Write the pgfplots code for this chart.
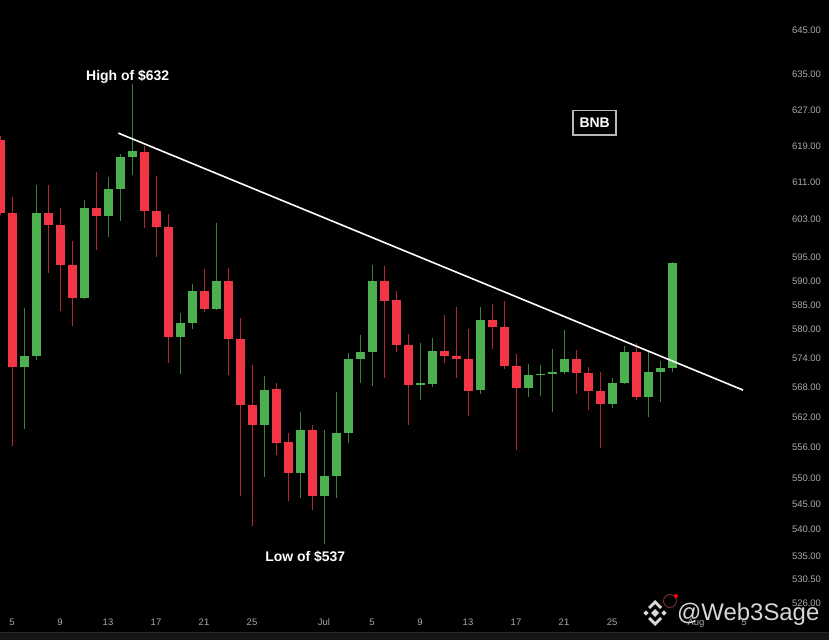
\documentclass[border=0pt]{standalone}
\usepackage{pgfplots}
\pgfplotsset{compat=1.18}
\usepackage{pgfplotstable}
\usepackage{fontspec}
\setmainfont{Liberation Sans}
\definecolor{candleup}{HTML}{4CAF50}
\definecolor{candledown}{HTML}{F23645}
\definecolor{ticklab}{HTML}{ABABAB}
\definecolor{band}{HTML}{161616}

\pgfplotstableread{
d o h l c
-1 620.4 621.3 604.0 604.5
0 604.4 608.0 556.3 572.2
1 572.2 584.4 559.7 574.5
2 574.5 610.5 573.6 604.4
3 604.4 610.5 591.6 601.9
4 601.9 605.6 583.8 593.4
5 593.4 598.5 580.7 586.4
6 586.4 607.3 586.2 605.6
7 605.6 613.4 596.5 603.7
8 603.7 612.2 599.4 609.6
9 609.6 617.2 602.8 616.7
10 616.6 632.9 612.7 617.9
11 617.7 619.1 601.3 604.9
12 604.9 612.5 595.1 601.5
13 601.5 604.2 573.0 578.4
14 578.4 583.3 570.8 581.3
15 581.3 589.4 580.1 588.0
16 588.0 592.5 583.6 584.1
17 584.1 602.3 583.9 590.1
18 590.1 592.7 570.6 578.0
19 578.0 582.2 546.5 564.5
20 564.6 572.6 540.6 560.5
21 560.5 570.4 550.3 567.5
22 567.7 568.9 554.6 557.0
23 557.1 559.0 545.6 551.0
24 551.0 563.1 546.2 559.5
25 559.5 560.4 543.7 546.4
26 546.4 559.5 537.3 550.4
27 550.4 567.1 546.2 559.0
28 558.9 575.1 557.0 573.8
29 573.8 578.8 568.9 575.3
30 575.3 593.4 568.4 589.9
31 589.9 593.2 570.0 585.8
32 586.0 587.9 575.3 576.7
33 576.7 579.0 560.4 568.6
34 568.6 577.1 565.5 568.9
35 568.7 578.2 568.2 575.5
36 575.5 582.9 573.1 574.5
37 574.5 584.6 570.0 573.8
38 573.8 580.0 562.3 567.3
39 567.5 584.6 566.7 581.8
40 581.8 585.2 575.8 580.4
41 580.4 585.8 571.8 572.4
42 572.4 574.8 555.5 568.0
43 568.0 572.8 566.2 570.6
44 570.6 572.6 566.3 570.9
45 570.9 575.9 563.0 571.2
46 571.1 579.7 570.7 573.8
47 573.8 575.6 566.7 571.0
48 571.0 572.2 563.6 567.3
49 567.3 571.3 556.0 564.8
50 564.8 570.0 563.9 568.9
51 568.9 576.5 568.7 575.2
52 575.2 577.2 565.4 566.1
53 566.1 575.4 562.1 571.2
54 571.2 573.4 565.2 572.0
55 572.0 593.9 571.1 593.7
}\candles

\begin{document}
\begin{tikzpicture}[x=1bp,y=1bp]
\useasboundingbox (0,0) rectangle (829,640);
\fill[black] (0,0) rectangle (829,640);
\fill[band] (0,0) rectangle (829,8);
\draw[color=white!16!black, line width=0.8bp] (0,8) -- (829,8);

\begin{axis}[
  at={(0bp,8bp)}, anchor=south west,
  scale only axis, width=775bp, height=632bp,
  xmin=-1, xmax=63.5833,
  y coord trafo/.code={\pgfmathparse{100*ln(#1)-600}},
  y coord inv trafo/.code={\pgfmathparse{exp((#1+600)/100)}},
  ymin=520.67, ymax=652.08,
  enlargelimits=false,
  axis line style={draw=none},
  tick style={draw=none},
  major tick length=0pt,
  /pgf/number format/assume math mode=true,
  xtick={0,4,8,12,16,20,26,30,34,38,42,46,50,57,61},
  xticklabels={5,9,13,17,21,25,Jul,5,9,13,17,21,25,Aug,5},
  xticklabel style={anchor=base, yshift=6.7bp, text=ticklab, font=\fontsize{9.5}{11}\selectfont},
  ytick={645,635,627,619,611,603,595,590,585,580,574,568,562,556,550,545,540,535,530.5,526},
  yticklabels={645.00,635.00,627.00,619.00,611.00,603.00,595.00,590.00,585.00,580.00,574.00,568.00,562.00,556.00,550.00,545.00,540.00,535.00,530.50,526.00},
  yticklabel pos=right,
  yticklabel style={anchor=center, xshift=31.5bp, text=ticklab, font=\fontsize{9.5}{11}\selectfont},
]
\pgfplotstablegetrowsof{\candles}
\pgfmathtruncatemacro\lastrow{\pgfplotsretval-1}
\pgfplotsforeachungrouped \i in {0,...,\lastrow}{%
  \pgfplotstablegetelem{\i}{d}\of\candles \let\cd\pgfplotsretval
  \pgfplotstablegetelem{\i}{o}\of\candles \let\co\pgfplotsretval
  \pgfplotstablegetelem{\i}{h}\of\candles \let\ch\pgfplotsretval
  \pgfplotstablegetelem{\i}{l}\of\candles \let\cl\pgfplotsretval
  \pgfplotstablegetelem{\i}{c}\of\candles \let\cc\pgfplotsretval
  \ifdim\cc pt<\co pt\relax \def\col{candledown}\else\def\col{candleup}\fi
  \pgfmathsetmacro\xa{\cd-0.375}%
  \pgfmathsetmacro\xb{\cd+0.375}%
  \edef\plotcmd{%
    \noexpand\addplot[color=\col, line width=0.9bp, draw opacity=0.75] coordinates {(\cd,\cl) (\cd,\ch)};
    \noexpand\addplot[fill=\col, draw=none] coordinates {(\xa,\co) (\xb,\co) (\xb,\cc) (\xa,\cc)};
  }%
  \plotcmd
}
\addplot[white, line width=1.6bp] coordinates {(8.86,621.9) (60.92,567.5)};
\end{axis}

\node[anchor=base, text=white, font=\bfseries\fontsize{14}{16}\selectfont] at (127.7,559) {High of \$632};
\node[anchor=base, text=white, font=\bfseries\fontsize{14}{16}\selectfont] at (305.3,78.3) {Low of \$537};
\draw[color=white!72!black, line width=1.3bp] (573,505) rectangle (616,529.3);
\node[anchor=base, text=white, font=\bfseries\fontsize{14}{16}\selectfont] at (594.7,512.7) {BNB};

% watermark
\begin{scope}[shift={(655,27)}, fill=white!85!black]
  \fill (0,4) -- (4,0) -- (0,-4) -- (-4,0) -- cycle;
  \fill (-9,2.6) -- (-6.4,0) -- (-9,-2.6) -- (-11.6,0) -- cycle;
  \fill (9,2.6) -- (11.6,0) -- (9,-2.6) -- (6.4,0) -- cycle;
  \fill (0,13) -- (7,6) -- (5,4) -- (0,9) -- (-5,4) -- (-7,6) -- cycle;
  \fill (0,-13) -- (7,-6) -- (5,-4) -- (0,-9) -- (-5,-4) -- (-7,-6) -- cycle;
\end{scope}
\draw[color=white!40!red!45!black, line width=1bp] (670,39) circle (6.5);
\fill[red] (676,44) circle (2);
\node[anchor=base west, text=white!84!black, inner sep=0pt, font=\fontsize{24}{28}\selectfont] at (677,19) {@Web3Sage};
\end{tikzpicture}
\end{document}
